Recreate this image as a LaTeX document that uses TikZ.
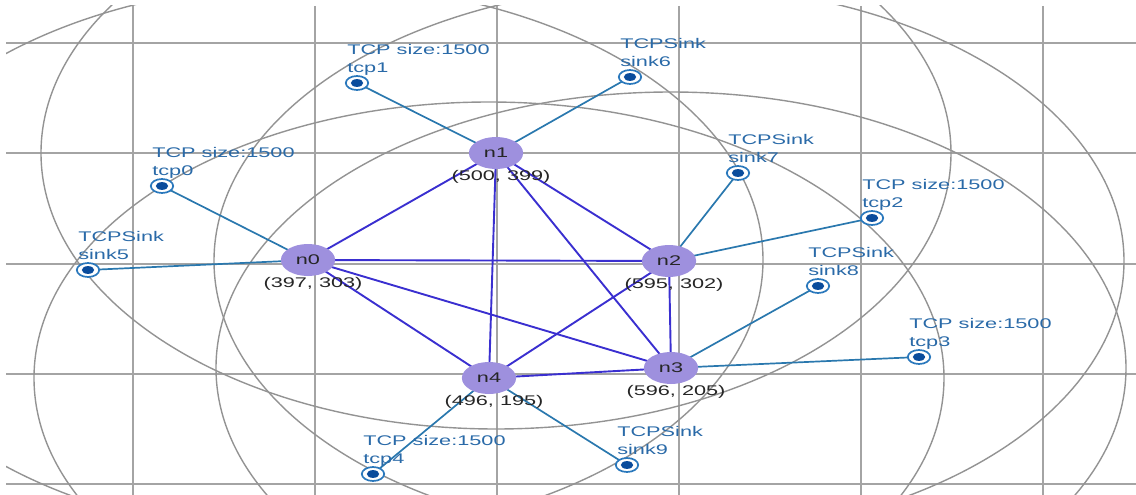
\documentclass[tikz,border=0pt]{standalone}
\usepackage{fontspec}
\setmainfont{Liberation Sans}
\usetikzlibrary{shapes.geometric,backgrounds}
\definecolor{gridgray}{HTML}{A4A4A4}
\definecolor{rangegray}{HTML}{939393}
\definecolor{nodefill}{HTML}{9E90DE}
\definecolor{edgeblue}{HTML}{3A2FD0}
\definecolor{agentline}{HTML}{2A78AE}
\definecolor{ringblue}{HTML}{2A78BC}
\definecolor{dotblue}{HTML}{0A4C9C}
\definecolor{labelblue}{HTML}{2A6AA8}
\begin{document}
\begin{tikzpicture}[x=1pt,y=-1pt,
 netnode/.style={ellipse, fill=nodefill, minimum width=35, minimum height=32, inner sep=0, xscale=1.55, font=\fontsize{14}{16}\selectfont, text=black!85},
 agent/.style={circle, draw=ringblue, line width=1.7, fill=white, minimum size=14, inner sep=0, xscale=1.6, path picture={\fill[dotblue] (path picture bounding box.center) circle[radius=3.9];}},
 agentlab/.style={anchor=south west, align=left, inner sep=0, xscale=1.55, text=labelblue, font=\fontsize{14}{18}\selectfont},
 coordlab/.style={inner sep=0, xscale=1.55, text=black!85, font=\fontsize{14}{16}\selectfont},
 netlink/.style={edgeblue, line width=1.9},
 attachline/.style={agentline, line width=1.7},
 gridline/.style={gridgray, line width=1.4},
 rangecircle/.style={rangegray, line width=1.4}]
\useasboundingbox (0,0) rectangle (1136,495);

% network nodes
\node[netnode] (n0) at (308,260) {n0};
\node[netnode] (n1) at (496,153) {n1};
\node[netnode] (n2) at (669,261) {n2};
\node[netnode] (n3) at (671,368) {n3};
\node[netnode] (n4) at (489,378) {n4};

\node[coordlab] (n0c) at ([shift={(5,24)}]n0.center) {(397, 303)};
\node[coordlab] (n1c) at ([shift={(5,24)}]n1.center) {(500, 399)};
\node[coordlab] (n2c) at ([shift={(5,24)}]n2.center) {(595, 302)};
\node[coordlab] (n3c) at ([shift={(5,24)}]n3.center) {(596, 205)};
\node[coordlab] (n4c) at ([shift={(5,24)}]n4.center) {(496, 195)};

% agents
\node[agent] (tcp0) at (162,186) {};
\node[agent] (tcp1) at (357,83) {};
\node[agent] (tcp2) at (872,218) {};
\node[agent] (tcp3) at (919,357) {};
\node[agent] (tcp4) at (373,474) {};
\node[agent] (sink5) at (88,270) {};
\node[agent] (sink6) at (630,77) {};
\node[agent] (sink7) at (738,173) {};
\node[agent] (sink8) at (818,286) {};
\node[agent] (sink9) at (627,465) {};

\node[agentlab] (tcp0l) at ([shift={(-10,-5)}]tcp0.center) {TCP size:1500\\tcp0\strut};
\node[agentlab] (tcp1l) at ([shift={(-10,-5)}]tcp1.center) {TCP size:1500\\tcp1\strut};
\node[agentlab] (tcp2l) at ([shift={(-10,-5)}]tcp2.center) {TCP size:1500\\tcp2\strut};
\node[agentlab] (tcp3l) at ([shift={(-10,-5)}]tcp3.center) {TCP size:1500\\tcp3\strut};
\node[agentlab] (tcp4l) at ([shift={(-10,-5)}]tcp4.center) {TCP size:1500\\tcp4\strut};
\node[agentlab] (sink5l) at ([shift={(-10,-5)}]sink5.center) {TCPSink\\sink5\strut};
\node[agentlab] (sink6l) at ([shift={(-10,-5)}]sink6.center) {TCPSink\\sink6\strut};
\node[agentlab] (sink7l) at ([shift={(-10,-5)}]sink7.center) {TCPSink\\sink7\strut};
\node[agentlab] (sink8l) at ([shift={(-10,-5)}]sink8.center) {TCPSink\\sink8\strut};
\node[agentlab] (sink9l) at ([shift={(-10,-5)}]sink9.center) {TCPSink\\sink9\strut};

\begin{pgfonlayer}{background}
 \begin{scope}
  \clip (6,6) rectangle (1136,495);
  \foreach \gx in {133,315,497,679,861,1043} \draw[gridline] (\gx,6) -- (\gx,495);
  \foreach \gy in {43,153,264,374,484} \draw[gridline] (6,\gy) -- (1136,\gy);
  \foreach \n in {n0,n1,n2,n3,n4} \draw[rangecircle] (\n.center) ellipse [x radius=455, y radius=276];
 \end{scope}
 \draw[attachline] (tcp0.center) -- (n0.center);
 \draw[attachline] (sink5.center) -- (n0.center);
 \draw[attachline] (tcp1.center) -- (n1.center);
 \draw[attachline] (sink6.center) -- (n1.center);
 \draw[attachline] (sink7.center) -- (n2.center);
 \draw[attachline] (tcp2.center) -- (n2.center);
 \draw[attachline] (sink8.center) -- (n3.center);
 \draw[attachline] (tcp3.center) -- (n3.center);
 \draw[attachline] (tcp4.center) -- (n4.center);
 \draw[attachline] (sink9.center) -- (n4.center);
 \foreach \a/\b in {n0/n1,n0/n2,n0/n3,n0/n4,n1/n2,n1/n3,n1/n4,n2/n3,n2/n4,n3/n4}
  \draw[netlink] (\a.center) -- (\b.center);
\end{pgfonlayer}
\end{tikzpicture}
\end{document}
